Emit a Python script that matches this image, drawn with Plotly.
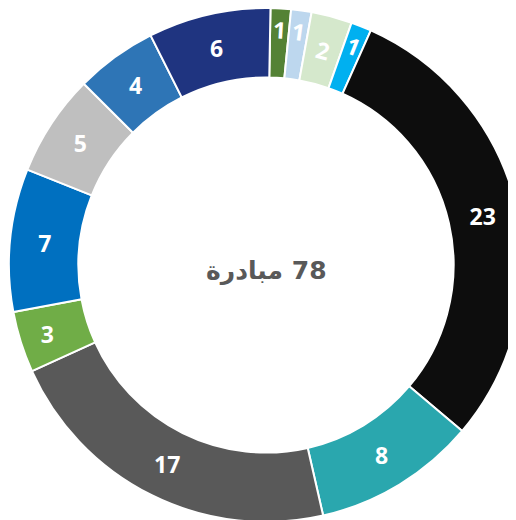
import plotly.graph_objects as go

labels = ["A", "B", "C", "D", "E", "F", "G", "H", "I", "J", "K", "L"]
values = [1, 1, 2, 1, 23, 8, 17, 3, 7, 5, 4, 6]
colors = ["#548235", "#BDD7EE", "#D5E8CC", "#00B0F0", "#0D0D0D", "#2AA7AE",
          "#595959", "#70AD47", "#0070C0", "#BFBFBF", "#2E75B6", "#1F3480"]
center_text = "\u202Aمبادرة\u200e 78\u202C"
small_limit = 2

big_text = [str(v) if v > small_limit else "" for v in values]
small_text = [str(v) if v <= small_limit else "" for v in values]

common = dict(labels=labels, values=values, sort=False, direction="clockwise",
              rotation=1, hole=0.73, domain=dict(x=[0.0, 1.0], y=[0.0, 1.0]),
              textinfo="text", textposition="inside", showlegend=False,
              textfont=dict(family="Open Sans", size=23, color="white", weight="bold"))

fig = go.Figure()
fig.add_trace(go.Pie(
    **common, text=big_text, insidetextorientation="horizontal",
    marker=dict(colors=colors, line=dict(color="white", width=2)),
))
fig.add_trace(go.Pie(
    **common, text=small_text, insidetextorientation="tangential",
    marker=dict(colors=["rgba(0,0,0,0)"] * len(values), line=dict(width=0)),
    hoverinfo="skip",
))
fig.add_annotation(text=center_text, x=0.5, y=0.49, xref="paper", yref="paper",
                   showarrow=False,
                   font=dict(family="DejaVu Sans", size=25, color="#595959", weight="bold"))
fig.update_layout(width=516, height=520, margin=dict(l=0, r=0, t=0, b=6),
                  paper_bgcolor="white", plot_bgcolor="white",
                  uniformtext=dict(minsize=23, mode="show"))
fig.write_html("out.html")
